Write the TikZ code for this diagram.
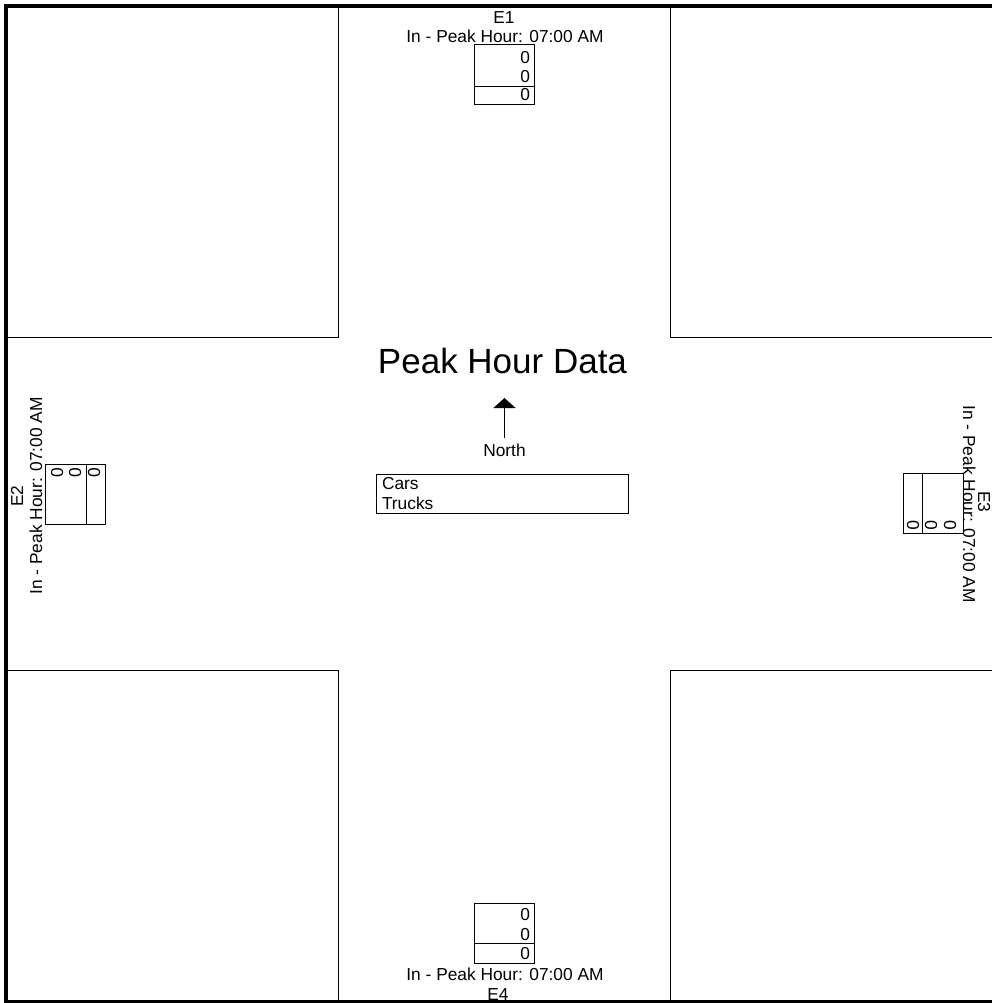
\documentclass[tikz,border=0pt]{standalone}
\usepackage{fontspec}
\setmainfont{Liberation Sans}
\usepackage{tikz}
\usetikzlibrary{positioning,arrows.meta}

\begin{document}
\begin{tikzpicture}[
  x=0.75pt, y=-0.75pt,
  font=\fontsize{13}{15.6}\selectfont,
  lbl/.style={inner sep=0pt, outer sep=0pt},
  num/.style={inner sep=0pt, outer sep=0pt},
  cell/.style={draw, line width=0.75pt, inner sep=0pt, outer sep=0pt},
  quad/.style={draw, line width=0.75pt},
  frame/.style={draw, line width=2.6pt},
  legend/.style={draw, line width=0.75pt, minimum width=189pt,
    minimum height=29.25pt, text width=180pt, align=left,
    inner xsep=4.5pt, inner ysep=1pt},
  compass/.style={-{Triangle[length=7.5pt,width=16.5pt]}, line width=0.75pt,
    shorten <=4pt}
]

% ---- page: 992 x 1003 px, origin top left ----
\useasboundingbox (0,0) rectangle (992,1003);
\clip (0,0) rectangle (992,1003);

% ================= corner blocks =================
\draw[quad] (6,6)     rectangle (338,337);
\draw[quad] (670,6)   rectangle (1010,337);
\draw[quad] (6,670)   rectangle (338,1001.5);
\draw[quad] (670,670) rectangle (1010,1001.5);
\draw[frame] (6,6) rectangle (1010,1001.5);

% ================= centre =================
\node[lbl, anchor=base, font=\fontsize{26.25}{30}\selectfont] (title) at (502.5,373) {Peak Hour Data};
\node[lbl, anchor=base] (north) at (504.5,456) {North};
\coordinate (ntip) at (504.5,398);
\draw[compass] (north.north) -- (ntip);
\node[legend] (legend) at (502,493.5) {Cars\\Trucks};

% ================= E1 (top) =================
\node[lbl, anchor=base] (e1name) at (504,23) {E1};
\node[lbl, anchor=base] (e1hour) at (505,42) {In - Peak Hour: 07:00 AM};
\node[cell, minimum width=45pt, minimum height=31.5pt] (e1top) at (504,65) {};
\node[cell, minimum width=45pt, minimum height=13.5pt] (e1bot) at (504,95) {};
\node[num, anchor=base east] (e1a) at (530,63)  {0};
\node[num, anchor=base east] (e1b) at (530,82)  {0};
\node[num, anchor=base east] (e1c) at (530,100) {0};

% ================= E2 (left) =================
\node[lbl, rotate=90, anchor=base] (e2name) at (23,496) {E2};
\node[lbl, rotate=90, anchor=base] (e2hour) at (42,496) {In - Peak Hour: 07:00 AM};
\node[cell, minimum width=30.75pt, minimum height=45pt] (e2top) at (65.5,494) {};
\node[cell, minimum width=14.25pt, minimum height=45pt] (e2bot) at (95.5,494) {};
\node[num, rotate=90, anchor=base east] (e2a) at (63,468)  {0};
\node[num, rotate=90, anchor=base east] (e2b) at (81,468)  {0};
\node[num, rotate=90, anchor=base east] (e2c) at (100,468) {0};

% ================= E3 (right) =================
\node[lbl, rotate=-90, anchor=base] (e3name) at (978,502) {E3};
\node[lbl, rotate=-90, anchor=base] (e3hour) at (963,504) {In - Peak Hour: 07:00 AM};
\node[cell, minimum width=30.75pt, minimum height=45pt] (e3top) at (942.5,503.5) {};
\node[cell, minimum width=14.25pt, minimum height=45pt] (e3bot) at (912.5,503.5) {};
\node[num, rotate=-90, anchor=base east] (e3a) at (944,530) {0};
\node[num, rotate=-90, anchor=base east] (e3b) at (925,530) {0};
\node[num, rotate=-90, anchor=base east] (e3c) at (907,530) {0};

% ================= E4 (bottom) =================
\node[cell, minimum width=45pt, minimum height=30pt] (e4top) at (504,923) {};
\node[cell, minimum width=45pt, minimum height=15pt] (e4bot) at (504,953) {};
\node[num, anchor=base east] (e4a) at (530,920) {0};
\node[num, anchor=base east] (e4b) at (530,940) {0};
\node[num, anchor=base east] (e4c) at (530,959) {0};
\node[lbl, anchor=base] (e4hour) at (505,980)  {In - Peak Hour: 07:00 AM};
\node[lbl, anchor=base] (e4name) at (498,1000) {E4};

\end{tikzpicture}
\end{document}
